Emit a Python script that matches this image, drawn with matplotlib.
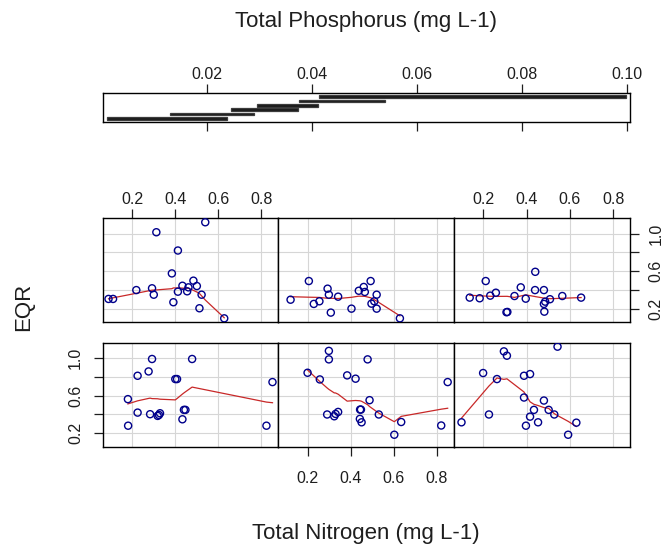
import numpy as np
import matplotlib
matplotlib.use("Agg")
import matplotlib.pyplot as plt
from matplotlib.patches import Rectangle

plt.rcParams['font.family'] = ['Liberation Sans', 'DejaVu Sans']

# ---------------- data ----------------
# conditioning intervals of Total Phosphorus (mg L-1)
tp_low = [0.0008, 0.0129, 0.0246, 0.0295, 0.0375, 0.0413]
tp_high = [0.0238, 0.0290, 0.0373, 0.0411, 0.0539, 0.0999]

# panel 1 (bottom-left)
tn_1 = [0.180, 0.181, 0.225, 0.225, 0.276, 0.292, 0.283, 0.318, 0.329, 0.324,
        0.400, 0.408, 0.440, 0.447, 0.433, 0.478, 0.851, 0.823]
eqr_1 = [0.563, 0.281, 0.811, 0.420, 0.857, 0.989, 0.403, 0.385, 0.413, 0.395,
         0.776, 0.776, 0.449, 0.449, 0.349, 0.989, 0.744, 0.281]
# panel 2 (bottom-middle)
tn_2 = [0.199, 0.256, 0.298, 0.298, 0.290, 0.323, 0.329, 0.341, 0.383, 0.422,
        0.478, 0.443, 0.447, 0.442, 0.450, 0.487, 0.530, 0.602, 0.634, 0.820, 0.850]
eqr_2 = [0.843, 0.772, 1.075, 0.985, 0.400, 0.381, 0.406, 0.427, 0.815, 0.780,
         0.985, 0.452, 0.452, 0.353, 0.317, 0.552, 0.400, 0.185, 0.320, 0.283, 0.744]
# panel 3 (bottom-right)
tn_3 = [0.099, 0.199, 0.226, 0.263, 0.295, 0.309, 0.388, 0.416, 0.388, 0.397,
        0.416, 0.434, 0.453, 0.480, 0.502, 0.528, 0.543, 0.592, 0.630]
eqr_3 = [0.317, 0.840, 0.400, 0.776, 1.070, 1.024, 0.811, 0.829, 0.580, 0.281,
         0.377, 0.449, 0.317, 0.548, 0.449, 0.400, 1.120, 0.185, 0.313]
# panel 4 (top-left)
tn_4 = [0.539, 0.312, 0.412, 0.384, 0.484, 0.433, 0.461, 0.500, 0.219, 0.292,
        0.300, 0.412, 0.455, 0.522, 0.090, 0.111, 0.391, 0.512, 0.627]
eqr_4 = [1.120, 1.014, 0.820, 0.577, 0.500, 0.446, 0.429, 0.443, 0.400, 0.419,
         0.351, 0.383, 0.387, 0.351, 0.306, 0.306, 0.271, 0.207, 0.100]
# panel 5 (top-middle)
tn_5 = [0.120, 0.205, 0.228, 0.254, 0.292, 0.298, 0.341, 0.307, 0.403, 0.437,
        0.460, 0.465, 0.492, 0.520, 0.496, 0.520, 0.509, 0.628]
eqr_5 = [0.298, 0.496, 0.253, 0.281, 0.415, 0.351, 0.330, 0.161, 0.203, 0.393,
         0.433, 0.380, 0.496, 0.351, 0.256, 0.203, 0.281, 0.100]
# panel 6 (top-right)
tn_6 = [0.137, 0.183, 0.211, 0.232, 0.258, 0.307, 0.311, 0.344, 0.373, 0.396,
        0.440, 0.439, 0.480, 0.480, 0.486, 0.508, 0.482, 0.565, 0.652]
eqr_6 = [0.320, 0.313, 0.496, 0.341, 0.372, 0.165, 0.168, 0.337, 0.429, 0.309,
         0.594, 0.400, 0.400, 0.253, 0.277, 0.303, 0.171, 0.337, 0.320]

tn_panels = [tn_1, tn_2, tn_3, tn_4, tn_5, tn_6]
eqr_panels = [eqr_1, eqr_2, eqr_3, eqr_4, eqr_5, eqr_6]

x_ticks = [0.2, 0.4, 0.6, 0.8]
x_ticklabels = ['0.2', '0.4', '0.6', '0.8']
y_ticks = [0.2, 0.4, 0.6, 0.8, 1.0]
y_ticklabels = ['0.2', '', '0.6', '', '1.0']
tp_ticks = [0.02, 0.04, 0.06, 0.08, 0.10]
tp_ticklabels = ['0.02', '0.04', '0.06', '0.08', '0.10']


# ---------------- R-style lowess ----------------
def lowess(x, y, f=2/3, iters=3):
    order = np.argsort(x, kind='stable')
    x = np.asarray(x, float)[order]
    y = np.asarray(y, float)[order]
    n = len(x)
    ns = max(2, min(n, int(f * n + 1e-7)))
    rng = x[-1] - x[0]
    rw = np.ones(n)
    ys = np.zeros(n)
    for it in range(iters + 1):
        nleft, nright = 0, ns - 1
        for i in range(n):
            xs = x[i]
            while nright < n - 1 and xs - x[nleft] > x[nright + 1] - xs:
                nleft += 1
                nright += 1
            h = max(xs - x[nleft], x[nright] - xs)
            h9, h1 = 0.999 * h, 0.001 * h
            w = np.zeros(n)
            a = 0.0
            j = nleft
            while j < n:
                r = abs(x[j] - xs)
                if r <= h9:
                    w[j] = 1.0 if r <= h1 else (1 - (r / h) ** 3) ** 3
                    if it > 0:
                        w[j] *= rw[j]
                    a += w[j]
                elif x[j] > xs:
                    break
                j += 1
            nrt = j - 1
            if a <= 0:
                ys[i] = y[i]
                continue
            idx = np.arange(nleft, nrt + 1)
            w[idx] /= a
            if h > 0:
                am = np.sum(w[idx] * x[idx])
                b = xs - am
                c = np.sum(w[idx] * (x[idx] - am) ** 2)
                if np.sqrt(c) > 0.001 * rng:
                    b /= c
                    w[idx] *= (b * (x[idx] - am) + 1)
            ys[i] = np.sum(w[idx] * y[idx])
        if it == iters:
            break
        res = np.abs(y - ys)
        sc = res.mean()
        cmad = 6 * np.median(res)
        if cmad < 1e-7 * sc:
            break
        c9, c1 = 0.999 * cmad, 0.001 * cmad
        rw = np.where(res <= c1, 1.0,
                      np.where(res > c9, 0.0, (1 - (res / cmad) ** 2) ** 2))
    return x, ys


# ---------------- figure ----------------
W, H = 665, 545
fig = plt.figure(figsize=(W / 100, H / 100), dpi=100)


def fr(x0, y0, x1, y1):
    return [x0 / W, 1 - y1 / H, (x1 - x0) / W, (y1 - y0) / H]


col_x = [(102.7, 278.3), (278.3, 453.7), (453.7, 630.0)]
row_y = [(342.7, 446.7), (218.3, 322.3)]  # bottom row, top row

XLIM = (0.063, 0.878)
YLIM = (0.058, 1.162)
TICKLEN = 6.7
FS_TICK = 11.5
txt_color = '#1E1E1E'
pt_color = '#00008B'
smooth_color = '#C82828'
grid_color = '#D6D6D6'

for k in range(6):
    r, c = divmod(k, 3)
    x0, x1 = col_x[c]
    y0, y1 = row_y[r]
    ax = fig.add_axes(fr(x0, y0, x1, y1))
    ax.set_xlim(*XLIM)
    ax.set_ylim(*YLIM)
    for v in x_ticks:
        ax.axvline(v, color=grid_color, lw=0.8, zorder=0)
    for v in y_ticks:
        ax.axhline(v, color=grid_color, lw=0.8, zorder=0)
    ax.scatter(tn_panels[k], eqr_panels[k], s=26, facecolors='none',
               edgecolors=pt_color, linewidths=1.0, zorder=3)
    lx, ly = lowess(tn_panels[k], eqr_panels[k])
    ax.plot(lx, ly, color=smooth_color, lw=0.9, zorder=2)
    for s in ax.spines.values():
        s.set_linewidth(1.0)
    ax.set_xticks(x_ticks)
    ax.set_yticks(y_ticks)
    ax.tick_params(length=TICKLEN, width=0.9, labelsize=FS_TICK, colors=txt_color,
                   bottom=False, top=False, left=False, right=False,
                   labelbottom=False, labeltop=False, labelleft=False, labelright=False)
    if r == 1 and c in (0, 2):
        ax.tick_params(axis='x', top=True, labeltop=True, pad=1.2)
        ax.set_xticklabels(x_ticklabels)
    if r == 0 and c == 1:
        ax.tick_params(axis='x', bottom=True, labelbottom=True, pad=10.5)
        ax.set_xticklabels(x_ticklabels)
    if r == 0 and c == 0:
        ax.tick_params(axis='y', left=True, labelleft=True, pad=7.5)
        ax.set_yticklabels(y_ticklabels, rotation=90, va='center')
    if r == 1 and c == 2:
        ax.tick_params(axis='y', right=True, labelright=True, pad=6.5)
        ax.set_yticklabels(y_ticklabels, rotation=90, va='center')

# given (conditioning) panel
axg = fig.add_axes(fr(102.7, 93.3, 630.0, 121.7))
lo_all, hi_all = min(tp_low), max(tp_high)
d = hi_all - lo_all
xl = (lo_all + 0.03 * d, hi_all - 0.03 * d)
e = 0.04 * (xl[1] - xl[0])
axg.set_xlim(xl[0] - e, xl[1] + e)
nint = len(tp_low)
axg.set_ylim(0.5 - 0.04 * nint, nint + 0.5 + 0.04 * nint)
for i, (a, b) in enumerate(zip(tp_low, tp_high)):
    axg.add_patch(Rectangle((a, i + 1 - 0.3), b - a, 0.6, facecolor='#1A1A1A',
                            edgecolor='#3C3C3C', lw=0.9))
for s in axg.spines.values():
    s.set_linewidth(1.0)
axg.set_yticks([])
axg.set_xticks(tp_ticks)
axg.set_xticklabels(tp_ticklabels)
axg.tick_params(axis='x', length=TICKLEN, width=0.9, labelsize=FS_TICK, colors=txt_color,
                top=True, bottom=True, labeltop=True, labelbottom=False, pad=1.5)

fig.text(366 / W, 1 - 21 / H, 'Total Phosphorus (mg L-1)', ha='center', va='center',
         fontsize=16, color=txt_color)
fig.text(366 / W, 1 - 533 / H, 'Total Nitrogen (mg L-1)', ha='center', va='center',
         fontsize=16, color=txt_color)
fig.text(24 / W, 1 - 307 / H, 'EQR', ha='center', va='center', rotation=90,
         fontsize=16, color=txt_color)

fig.savefig('out.png', dpi=100, facecolor='white')
